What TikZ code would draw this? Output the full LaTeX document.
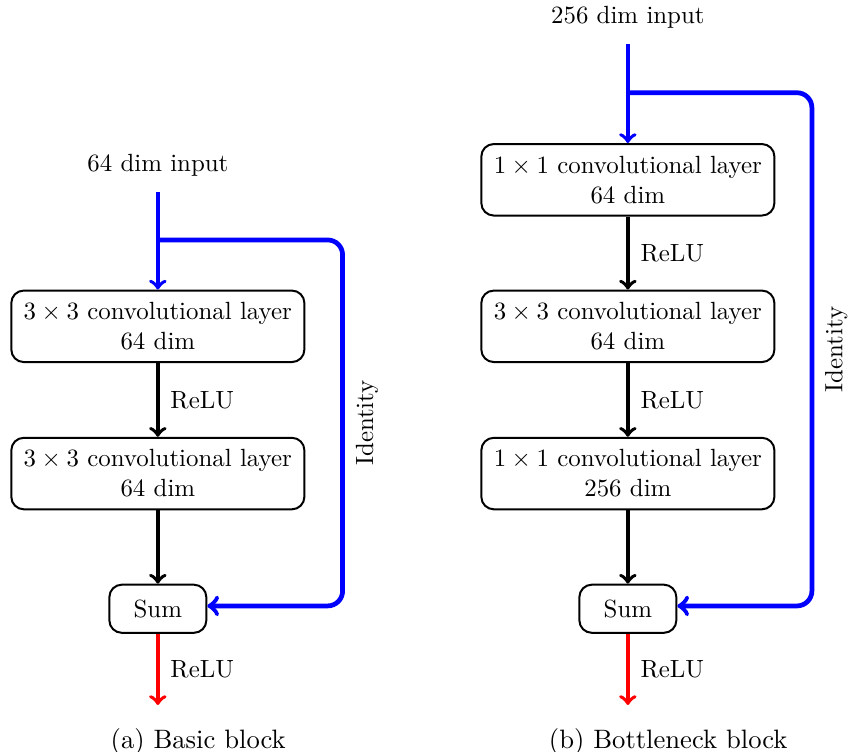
\documentclass[tikz,border=0pt]{standalone}
\usetikzlibrary{arrows}

\tikzset{
    layer/.style={draw, thick, rounded corners=5pt, minimum width=4.14cm, minimum height=1.01cm, align=center},
    sumbox/.style={draw, thick, rounded corners=5pt, minimum width=1.37cm, minimum height=0.68cm},
    flow/.style={->, line width=1.5pt},
    skip/.style={->, line width=1.9pt, blue, rounded corners=6pt},
    inflow/.style={->, line width=1.5pt, blue},
    outflow/.style={->, line width=1.5pt, red},
    lab/.style={text=black},
    caption/.style={font=\fontsize{10.7}{13}\selectfont},
}

\begin{document}
\begin{tikzpicture}
    \useasboundingbox (0,0) rectangle (11.98cm,-10.62cm);

    % (a) basic block
    \node (inA) at (2.23cm,-2.33cm) {64 dim input};
    \coordinate (startA) at (2.23cm,-2.71cm);
    \coordinate (forkA) at (2.23cm,-3.39cm);
    \node[layer] (convA1) at (2.23cm,-4.61cm) {$3\times3$ convolutional layer\\64 dim};
    \node[layer] (convA2) at (2.23cm,-6.69cm) {$3\times3$ convolutional layer\\64 dim};
    \node[sumbox] (sumA) at (2.23cm,-8.60cm) {Sum};
    \coordinate (outA) at (2.23cm,-9.96cm);
    \coordinate (turnA1) at (4.84cm,-3.39cm);
    \coordinate (turnA2) at (4.84cm,-8.56cm);
    \draw[inflow] (startA) -- (convA1);
    \draw[flow] (convA1) -- node[lab, right=1pt] {ReLU} (convA2);
    \draw[flow] (convA2) -- (sumA);
    \draw[skip] (forkA) -- (turnA1) -- node[lab, right=1pt, rotate=90, anchor=north] {Identity} (turnA2) -- (sumA.east |- turnA2);
    \draw[outflow] (sumA) -- node[lab, right=1pt] {ReLU} (outA);
    \node[caption] (capA) at (2.80cm,-10.48cm) {(a) Basic block};

    % (b) bottleneck block
    \node (inB) at (8.87cm,-0.25cm) {256 dim input};
    \coordinate (startB) at (8.87cm,-0.62cm);
    \coordinate (forkB) at (8.87cm,-1.31cm);
    \node[layer] (convB1) at (8.87cm,-2.54cm) {$1\times1$ convolutional layer\\64 dim};
    \node[layer] (convB2) at (8.87cm,-4.61cm) {$3\times3$ convolutional layer\\64 dim};
    \node[layer] (convB3) at (8.87cm,-6.69cm) {$1\times1$ convolutional layer\\256 dim};
    \node[sumbox] (sumB) at (8.87cm,-8.60cm) {Sum};
    \coordinate (outB) at (8.87cm,-9.96cm);
    \coordinate (turnB1) at (11.47cm,-1.31cm);
    \coordinate (turnB2) at (11.47cm,-8.56cm);
    \draw[inflow] (startB) -- (convB1);
    \draw[flow] (convB1) -- node[lab, right=1pt] {ReLU} (convB2);
    \draw[flow] (convB2) -- node[lab, right=1pt] {ReLU} (convB3);
    \draw[flow] (convB3) -- (sumB);
    \draw[skip] (forkB) -- (turnB1) -- node[lab, right=1pt, rotate=90, anchor=north] {Identity} (turnB2) -- (sumB.east |- turnB2);
    \draw[outflow] (sumB) -- node[lab, right=1pt] {ReLU} (outB);
    \node[caption] (capB) at (9.44cm,-10.48cm) {(b) Bottleneck block};
\end{tikzpicture}
\end{document}
